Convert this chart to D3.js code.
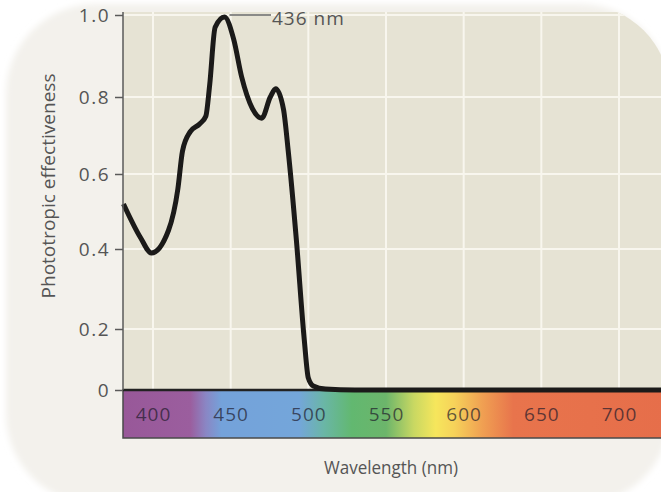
<!DOCTYPE html>
<html>
<head>
<meta charset="utf-8">
<script src="https://cdn.jsdelivr.net/npm/d3@7"></script>
<style>
  html, body { margin: 0; padding: 0; background: #ffffff; }
  svg { display: block; font-family: "Open Sans", "Noto Sans", sans-serif; }
</style>
</head>
<body>
<div id="chart"></div>
<script>
// data
const wavelengths = [381, 392, 399, 410, 416, 419, 424, 430, 434, 436.5, 440, 446, 452, 457, 464, 470, 475.5, 479, 484, 487, 492.3, 497.4, 500, 503.2, 511, 530, 730];
const effectiveness = [0.52, 0.43, 0.39, 0.45, 0.56, 0.66, 0.71, 0.73, 0.75, 0.83, 0.97, 0.995, 0.94, 0.85, 0.77, 0.745, 0.80, 0.82, 0.768, 0.662, 0.424, 0.164, 0.039, 0.013, 0.003, 0, 0];
const xTicks = [400, 450, 500, 550, 600, 650, 700];
const yTicks = [0, 0.2, 0.4, 0.6, 0.8, 1.0];
const peakLabel = "436 nm";
const peakWavelength = 446;

// spectrum colours (wavelength -> colour)
const spectrumNm = [380, 424, 434, 444, 494, 510, 528, 550, 568, 582, 594, 612, 632, 730];
const spectrumColors = ["#985899", "#9b5e9e", "#8a86c4", "#74a2da", "#74a6da", "#6ab6a6", "#62b870", "#6cb56b", "#c9d862", "#f6e65c", "#f6d25a", "#f0a052", "#e8744c", "#e66e4a"];

const W = 661, H = 492;
const left = 123, baseY = 390, barBottom = 438, plotTop = 12;

const svg = d3.select("#chart")
  .append("svg")
    .attr("width", W)
    .attr("height", H);

const defs = svg.append("defs");

defs.append("filter")
    .attr("id", "soft")
    .attr("x", "-10%").attr("y", "-10%")
    .attr("width", "120%").attr("height", "120%")
  .append("feGaussianBlur")
    .attr("stdDeviation", 3);

defs.append("clipPath")
    .attr("id", "card-clip")
  .append("rect")
    .attr("x", 6).attr("y", 4)
    .attr("width", 664).attr("height", 500)
    .attr("rx", 90);

// card background
svg.append("rect")
    .attr("x", 6).attr("y", 4)
    .attr("width", 664).attr("height", 500)
    .attr("rx", 90)
    .attr("fill", "#f3f1ec")
    .attr("filter", "url(#soft)");

const x = d3.scaleLinear()
  .domain([400, 700])
  .range([153, 619]);

// the printed axis is not evenly spaced, so map each tick to where it sits
const y = d3.scaleLinear()
  .domain(yTicks)
  .range([390, 329, 249, 174, 97, 15]);

const g = svg.append("g").attr("clip-path", "url(#card-clip)");

// plot background
g.append("rect")
    .attr("x", left)
    .attr("y", plotTop)
    .attr("width", W - left + 10)
    .attr("height", baseY - plotTop)
    .attr("fill", "#e6e3d4");

// grid
g.append("g")
  .selectAll("line")
  .data(xTicks)
  .join("line")
    .attr("x1", d => x(d)).attr("x2", d => x(d))
    .attr("y1", plotTop).attr("y2", baseY)
    .attr("stroke", "#f8f6ee")
    .attr("stroke-width", 2);

g.append("g")
  .selectAll("line")
  .data(yTicks.slice(1))
  .join("line")
    .attr("x1", left).attr("x2", W + 10)
    .attr("y1", d => y(d)).attr("y2", d => y(d))
    .attr("stroke", "#f8f6ee")
    .attr("stroke-width", 2);

// spectrum bar
const nmLeft = x.invert(left);
const nmRight = 730;
const grad = defs.append("linearGradient")
    .attr("id", "spectrum")
    .attr("gradientUnits", "userSpaceOnUse")
    .attr("x1", x(nmLeft)).attr("x2", x(nmRight))
    .attr("y1", 0).attr("y2", 0);

grad.selectAll("stop")
  .data(spectrumNm)
  .join("stop")
    .attr("offset", d => Math.max(0, (x(d) - x(nmLeft)) / (x(nmRight) - x(nmLeft))))
    .attr("stop-color", (d, i) => spectrumColors[i]);

g.append("rect")
    .attr("x", left)
    .attr("y", baseY)
    .attr("width", x(nmRight) - left)
    .attr("height", barBottom - baseY)
    .attr("fill", "url(#spectrum)")
    .attr("stroke", "#4a4a4a")
    .attr("stroke-width", 1.5);

g.append("g")
    .attr("transform", `translate(0,${(baseY + barBottom) / 2})`)
  .call(d3.axisBottom(x).tickValues(xTicks).tickSize(0))
  .call(a => a.select(".domain").remove())
  .selectAll("text")
    .attr("y", 0)
    .attr("dy", "0.36em")
    .attr("font-size", 19)
    .attr("letter-spacing", 1)
    .attr("font-family", "\"Open Sans\", sans-serif")
    .attr("fill", "#1e1a2a")
    .attr("fill-opacity", 0.7);

// baseline
g.append("line")
    .attr("x1", left).attr("x2", W + 10)
    .attr("y1", baseY).attr("y2", baseY)
    .attr("stroke", "#222")
    .attr("stroke-width", 2.5);

// curve
const line = d3.line()
  .x(d => x(d[0]))
  .y(d => y(d[1]))
  .curve(d3.curveMonotoneX);

g.append("path")
    .datum(d3.zip(wavelengths, effectiveness))
    .attr("fill", "none")
    .attr("stroke", "#1b1a19")
    .attr("stroke-width", 5)
    .attr("stroke-linejoin", "round")
    .attr("d", line);

// peak annotation
svg.append("line")
    .attr("x1", x(peakWavelength) + 5).attr("x2", 271)
    .attr("y1", y(1)).attr("y2", y(1))
    .attr("stroke", "#666")
    .attr("stroke-width", 1.5);

svg.append("text")
    .attr("x", 272)
    .attr("y", y(1) + 3)
    .attr("dy", "0.35em")
    .attr("font-size", 19)
    .attr("letter-spacing", 1)
    .attr("fill", "#555")
    .text(peakLabel);

// y axis
const yAxis = svg.append("g")
    .attr("transform", `translate(${left},0)`)
  .call(d3.axisLeft(y)
    .tickValues(yTicks)
    .tickSize(8)
    .tickPadding(5)
    .tickFormat(d => d === 0 ? "0" : d3.format(".1f")(d)));

yAxis.select(".domain")
    .attr("d", `M0,${plotTop}V${baseY}`)
    .attr("stroke", "#5a5a5a")
    .attr("stroke-width", 1.5);

yAxis.selectAll(".tick line")
    .attr("stroke", "#5a5a5a")
    .attr("stroke-width", 1.5);

yAxis.selectAll(".tick text")
    .attr("font-size", 19)
    .attr("letter-spacing", 1.5)
    .attr("font-family", "\"Open Sans\", sans-serif")
    .attr("fill", "#555");

// axis titles (the source face is narrower, so squeeze to its width)
svg.append("text")
    .attr("transform", "translate(55,186) rotate(-90)")
    .attr("text-anchor", "middle")
    .attr("font-size", 19)
    .attr("textLength", 225)
    .attr("lengthAdjust", "spacingAndGlyphs")
    .attr("fill", "#555")
    .text("Phototropic effectiveness");

svg.append("text")
    .attr("x", 391)
    .attr("y", 474)
    .attr("text-anchor", "middle")
    .attr("font-size", 19)
    .attr("textLength", 134)
    .attr("lengthAdjust", "spacingAndGlyphs")
    .attr("fill", "#555")
    .text("Wavelength (nm)");
</script>
</body>
</html>
